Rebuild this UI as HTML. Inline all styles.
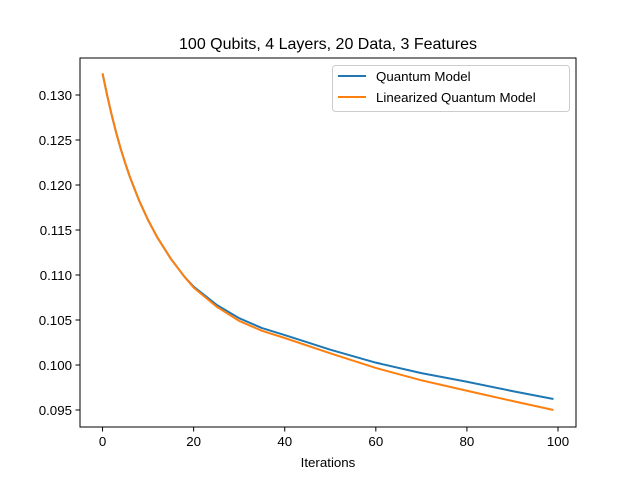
<!DOCTYPE html>
<html><head><meta charset="utf-8"><style>
body{margin:0;background:#fff}
svg{display:block;font-family:"Liberation Sans","DejaVu Sans",sans-serif}
</style></head><body>
<svg id="chart" width="640" height="480">
<rect width="640" height="480" fill="#fff"/>
<text x="328" y="49" text-anchor="middle" font-size="16">100 Qubits, 4 Layers, 20 Data, 3 Features</text>
<g id="plot"></g>
<rect x="80" y="58" width="496" height="369" fill="none" stroke="#000" stroke-width="1"/>
<g id="xticks"></g><g id="yticks"></g>
<text x="328" y="467" text-anchor="middle" font-size="13.3">Iterations</text>
<g>
<rect x="332.5" y="65.5" width="237" height="46" rx="3" fill="#fff" fill-opacity="0.8" stroke="#ccc"/>
<line x1="338" y1="76" x2="366" y2="76" stroke="#1f77b4" stroke-width="2"/>
<text x="376" y="81" font-size="13.3">Quantum Model</text>
<line x1="338" y1="97" x2="366" y2="97" stroke="#ff7f0e" stroke-width="2"/>
<text x="376" y="102" font-size="13.3">Linearized Quantum Model</text>
</g>
</svg>
<script>
const iterations=[0,1,2,3,4,5,6,8,10,12,15,18,20,25,30,35,40,50,60,70,80,90,99];
const quantum=[.1324,.1300,.1278,.1258,.1240,.1224,.1209,.1183,.1161,.1142,.1118,.1098,.1087,.1067,.1052,.1041,.10333,.1017,.10026,.0991,.09814,.0971,.09622];
const linearized=[.1324,.1300,.1278,.1258,.1240,.1224,.1209,.1183,.1161,.1142,.1118,.1098,.1086,.1065,.1049,.1038,.1030,.1013,.09967,.0983,.09714,.0960,.0950];
const xTicks=[0,20,40,60,80,100];
const yTicks=[0.095,0.100,0.105,0.110,0.115,0.120,0.125,0.130];
const X0=80,X1=576,Y0=427,Y1=58,xmin=-4.95,xmax=103.95,ymin=0.093111,ymax=0.134111;
function sx(v){return X0+(v-xmin)/(xmax-xmin)*(X1-X0);}
function sy(v){return Y0-(v-ymin)/(ymax-ymin)*(Y0-Y1);}
const NS="http://www.w3.org/2000/svg";
const plot=document.getElementById('plot');
function line(vals,color,name){
  const p=document.createElementNS(NS,'polyline');
  p.setAttribute('points',iterations.map((x,i)=>sx(x).toFixed(2)+','+sy(vals[i]).toFixed(2)).join(' '));
  p.setAttribute('fill','none');p.setAttribute('stroke',color);p.setAttribute('stroke-width','2');
  p.setAttribute('stroke-linejoin','round');
  
  
  plot.appendChild(p);
}
line(quantum,'#1f77b4','quantum-model-line');
line(linearized,'#ff7f0e','linearized-model-line');
const xg=document.getElementById('xticks');
xTicks.forEach(t=>{
  const x=sx(t);
  const l=document.createElementNS(NS,'line');
  l.setAttribute('x1',x);l.setAttribute('x2',x);l.setAttribute('y1',427);l.setAttribute('y2',431.5);l.setAttribute('stroke','#000');
  
  
  xg.appendChild(l);
  const tx=document.createElementNS(NS,'text');
  tx.setAttribute('x',x);tx.setAttribute('y',446);tx.setAttribute('text-anchor','middle');tx.setAttribute('font-size','13.3');
  tx.textContent=t;
  
  
  xg.appendChild(tx);
});
const yg=document.getElementById('yticks');
yTicks.forEach(t=>{
  const y=sy(t);
  const l=document.createElementNS(NS,'line');
  l.setAttribute('x1',75.5);l.setAttribute('x2',80);l.setAttribute('y1',y);l.setAttribute('y2',y);l.setAttribute('stroke','#000');
  
  
  yg.appendChild(l);
  const tx=document.createElementNS(NS,'text');
  tx.setAttribute('x',72);tx.setAttribute('y',y+5);tx.setAttribute('text-anchor','end');tx.setAttribute('font-size','13.3');
  tx.textContent=t.toFixed(3);
  
  
  yg.appendChild(tx);
});
</script>
</body></html>
